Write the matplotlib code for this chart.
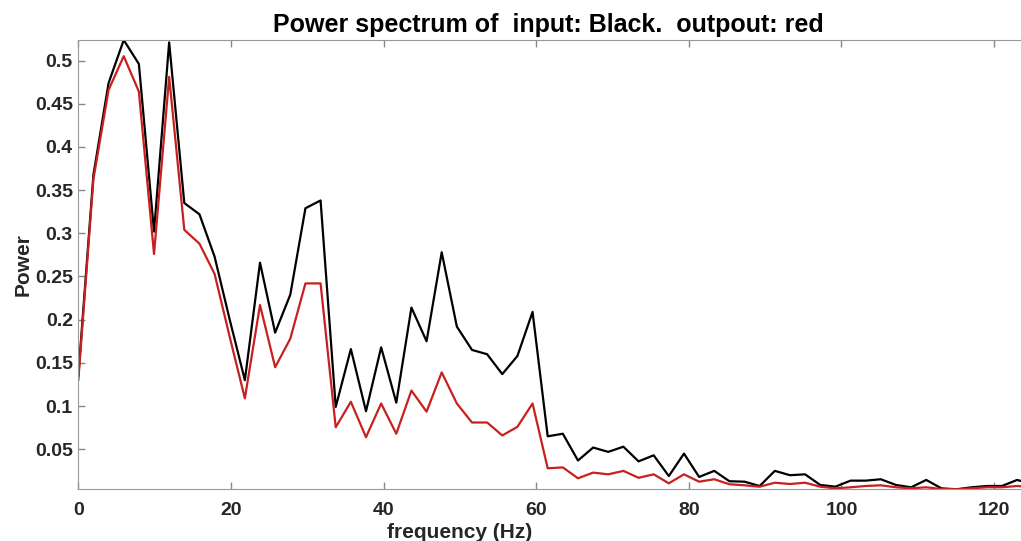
import matplotlib
matplotlib.use("Agg")
import matplotlib.pyplot as plt
import numpy as np

# frequency grid: 64 bins from 0 to 125 Hz
freq = np.linspace(0, 125, 64)

# power of the input signal (black)
p_in = [0.135, 0.368, 0.474, 0.5237, 0.496, 0.302, 0.521, 0.335, 0.322, 0.273,
        0.200, 0.130, 0.266, 0.185, 0.229, 0.329, 0.338, 0.099, 0.166, 0.094,
        0.168, 0.104, 0.214, 0.175, 0.278, 0.192, 0.165, 0.160, 0.137, 0.158,
        0.209, 0.065, 0.068, 0.037, 0.052, 0.047, 0.053, 0.036, 0.043, 0.019,
        0.045, 0.018, 0.025, 0.013, 0.0125, 0.0075, 0.025, 0.020, 0.021, 0.0087,
        0.0067, 0.0137, 0.0137, 0.0153, 0.0087, 0.006, 0.0145, 0.0048, 0.0037, 0.006,
        0.0075, 0.0075, 0.0145, 0.010]

# power of the output signal (red)
p_out = [0.130, 0.363, 0.466, 0.505, 0.464, 0.276, 0.481, 0.304, 0.288, 0.253,
         0.180, 0.109, 0.217, 0.145, 0.178, 0.242, 0.242, 0.0755, 0.105, 0.064,
         0.103, 0.068, 0.118, 0.0935, 0.139, 0.103, 0.081, 0.081, 0.066, 0.076,
         0.103, 0.028, 0.029, 0.0164, 0.023, 0.021, 0.025, 0.017, 0.021, 0.0106,
         0.021, 0.0125, 0.0153, 0.0095, 0.0083, 0.0067, 0.0113, 0.0098, 0.0113, 0.0067,
         0.0048, 0.006, 0.0075, 0.0083, 0.006, 0.0048, 0.006, 0.004, 0.0037, 0.0048,
         0.006, 0.006, 0.0075, 0.006]

plt.rcParams['font.family'] = ['Liberation Sans', 'DejaVu Sans']

fig = plt.figure(figsize=(10.21, 5.41), dpi=100)
ax = fig.add_axes([0.0767, 0.0956, 1.011 - 0.0767, 0.926 - 0.0956])

ax.plot(freq, p_in, color='black', lw=1.6)
ax.plot(freq, p_out, color='#c8201e', lw=1.6)

ax.set_xlim(0, 125)
ax.set_ylim(0.0037, 0.5237)
ax.set_xticks([0, 20, 40, 60, 80, 100, 120])
ax.set_yticks([0.05, 0.1, 0.15, 0.2, 0.25, 0.3, 0.35, 0.4, 0.45, 0.5])
ax.set_yticklabels(['0.05', '0.1', '0.15', '0.2', '0.25', '0.3', '0.35', '0.4', '0.45', '0.5'])

ax.tick_params(direction='in', length=5, width=1, colors='#888888',
               labelcolor='#262626', labelsize=14, top=True, right=True)
ax.tick_params(axis='x', pad=9)
ax.tick_params(axis='y', pad=4)
for lab in ax.get_xticklabels() + ax.get_yticklabels():
    lab.set_fontweight('bold')
for s in ax.spines.values():
    s.set_color('#999999')

ax.set_xlabel('frequency (Hz)', fontsize=15, fontweight='bold', color='#262626')
ax.xaxis.set_label_coords(0.40, -0.075)
ax.set_ylabel('Power', fontsize=15, fontweight='bold', color='#262626')
ax.yaxis.set_label_coords(-0.0475, 0.5)
ax.set_title('Power spectrum of  input: Black.  outpout: red', fontsize=18,
             fontweight='bold', x=0.493, pad=6)

fig.savefig('out.png', dpi=100)
